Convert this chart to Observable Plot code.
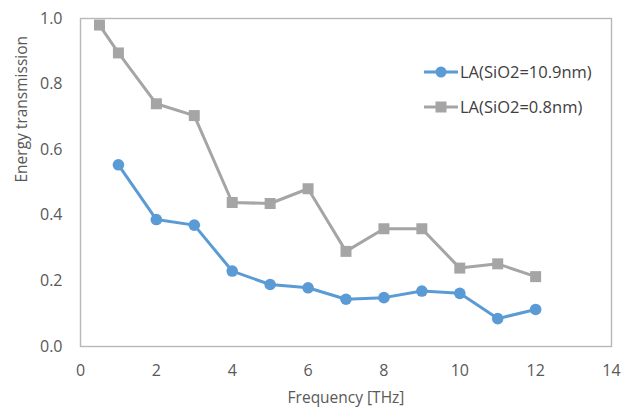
<!DOCTYPE html>
<html><head><meta charset="utf-8">
<script src="https://cdn.jsdelivr.net/npm/d3@7"></script>
<script src="https://cdn.jsdelivr.net/npm/@observablehq/plot@0.6"></script>
<style>
body{margin:0;background:#fff;}
#wrap{position:relative;width:639px;height:408px;font-family:"Open Sans",sans-serif;}
#legend{position:absolute;left:424px;top:54px;font-size:16.5px;color:#404040;}
.row{display:flex;align-items:center;height:35px;}
.row svg{margin-right:2px;}
</style></head><body>
<div id="wrap"><div id="legend"></div></div>
<script>
const xGray = [0.5,1,2,3,4,5,6,7,8,9,10,11,12];
const yGray = [0.98,0.895,0.74,0.704,0.439,0.436,0.481,0.29,0.359,0.359,0.239,0.252,0.213];
const xBlue = [1,2,3,4,5,6,7,8,9,10,11,12];
const yBlue = [0.554,0.387,0.37,0.23,0.189,0.179,0.144,0.149,0.169,0.162,0.085,0.113];
const seriesNames = ["LA(SiO2=10.9nm)","LA(SiO2=0.8nm)"];
const xTicks = [0,2,4,6,8,10,12,14];
const yTicks = [0,0.2,0.4,0.6,0.8,1.0];
const xLabel = ["Frequency [THz]"];
const yLabel = ["Energy transmission"];
const blue = "#5b9bd5", gray = "#a5a5a5";

const gray_d = xGray.map((x,i)=>({x,y:yGray[i]}));
const blue_d = xBlue.map((x,i)=>({x,y:yBlue[i]}));

const chart = Plot.plot({
  width:639, height:408,
  marginLeft:80, marginRight:28, marginTop:18, marginBottom:62,
  style:{fontFamily:"Open Sans, sans-serif", fontSize:"16px", color:"#595959"},
  x:{domain:[0,14], ticks:xTicks, tickSize:0, tickPadding:18, tickFormat:d=>d, label:null},
  y:{domain:[0,1], ticks:yTicks, tickSize:0, tickPadding:18, tickFormat:d3.format(".1f"), label:null},
  marks:[
    Plot.frame({stroke:"#b8b8b8", strokeWidth:1.4}),
    Plot.line(gray_d,{x:"x",y:"y",stroke:gray,strokeWidth:3}),
    Plot.dot(gray_d,{x:"x",y:"y",symbol:"square",fill:gray,r:6.2}),
    Plot.line(blue_d,{x:"x",y:"y",stroke:blue,strokeWidth:3}),
    Plot.dot(blue_d,{x:"x",y:"y",fill:blue,r:5.8}),
    Plot.text(xLabel,{frameAnchor:"bottom",text:d=>d,dy:56,fontSize:15.5,fill:"#595959"}),
    Plot.text(yLabel,{frameAnchor:"left",text:d=>d,dx:-58,rotate:-90,fontSize:15.5,fill:"#595959"})
  ]
});
document.getElementById("wrap").prepend(chart);

const leg = document.getElementById("legend");
[[blue,"circle"],[gray,"square"]].forEach(([c,s],i)=>{
  const row = document.createElement("div"); row.className="row";
  const shape = s==="circle" ? `<circle cx="17" cy="8" r="5.5" fill="${c}"/>` : `<rect x="11.5" y="2.5" width="11" height="11" fill="${c}"/>`;
  row.innerHTML = `<svg width="34" height="16"><line x1="0" x2="34" y1="8" y2="8" stroke="${c}" stroke-width="3"/>${shape}</svg><span>${seriesNames[i]}</span>`;
  leg.appendChild(row);
});
</script></body></html>
